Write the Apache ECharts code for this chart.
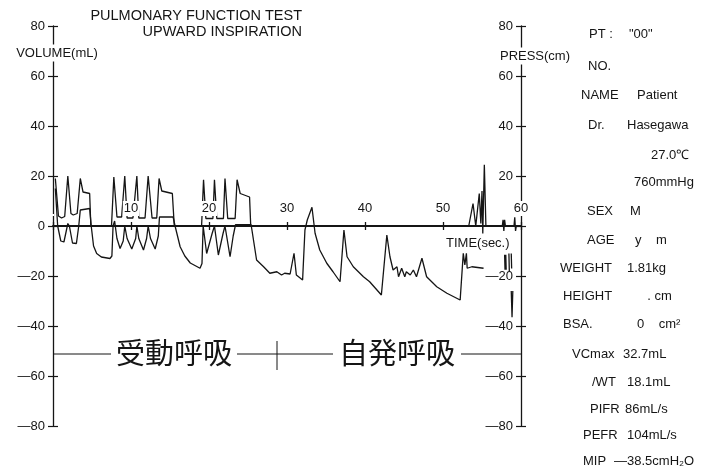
<!DOCTYPE html>
<html><head><meta charset="utf-8">
<script src="https://cdn.jsdelivr.net/npm/echarts@6/dist/echarts.min.js"></script>
<style>html,body{margin:0;padding:0;background:#fff}#c{width:709px;height:471px}</style>
</head><body><div id="c"></div>
<script>
// ---- data (time in sec, volume in mL, pressure in cm) ----
const volTime  = [0.3,0.7,1.1,1.5,1.9,2.3,2.6,3.1,3.5,3.85,4.7,4.85,7.5,7.8,8.2,8.8,9.2,9.5,10.25,10.75,11.0,11.8,12.2,12.7,13.3,13.6,13.95,15.3,15.55,19.05,19.3,19.6,20.5,20.7,21.0,21.85,22.05,22.4,23.35,23.6,24.0,25.2,25.35,53.3,53.85,54.2,54.65,54.85,55.0,55.1,55.3,55.5,57.6,57.7,57.8,57.9,58.0,59.1,59.2,59.3,59.4];
const volValue = [19,4,3.2,3.8,20,5,4.4,5,19,13.6,13,0,0,19.6,3.6,3.6,20,3.2,3.2,20,3.2,3.2,20,3.2,3.2,19,14,13,0,0,18.5,3,3,18.5,3,3,19,3,3,18.5,13,11.6,0,0,9,0,13,1,14,-3,24.5,0,0,2.5,-2,2.5,0,0,3.5,-2,0];

const pressTime  = [0.3,0.6,1.0,1.4,1.7,1.9,2.1,2.5,3.0,3.3,3.5,3.7,4.7,4.9,5.2,5.6,6.2,7.3,7.55,7.7,7.9,8.2,8.6,9.0,9.2,9.5,10.1,10.6,10.75,11.0,11.6,12.0,12.2,12.5,13.1,13.5,13.65,15.4,15.65,16.3,16.9,17.6,18.85,19.1,19.25,19.7,20.4,20.7,21.2,21.8,22.05,22.7,23.1,23.4,25.4,26.1,27.0,27.8,28.7,29.3,29.7,30.4,30.9,31.2,32.0,32.3,32.6,33.2,33.6,34.2,35.1,35.9,36.8,37.3,37.7,38.5,39.8,40.6,42.1,42.8,43.2,43.6,44.1,44.3,44.7,45.1,45.3,45.8,46.2,46.6,47.3,47.9,49.2,50.5,52.2,52.6,52.8,53.0,53.1,53.7,55.2];
const pressValue = [15,0,-6,-6.4,-2,1,0,-6.8,-7,0,6.4,7.2,7,0,-8,-11,-12.4,-13,-12,0,2,-5,-9,-6,0,-5,-9.2,-5,0,-5,-9.6,-5,0,-5,-9.2,-4,3.6,3.6,0,-8.3,-12,-14.8,-16.9,-15,0,-11,-3,0,-11.6,-3,0,-12.3,-4,0.5,0.5,-13.6,-16.3,-18.9,-18.3,-19.6,-18.9,-19.2,-10.9,-19.6,-21.6,-1.6,2.4,7.5,-2.9,-9.6,-14.9,-18.3,-22.3,-1.6,-12.3,-16.3,-20.3,-22.3,-27.6,-3.6,-12.3,-17.6,-16.3,-20.3,-16.9,-20.3,-18.3,-19.6,-17.6,-20.3,-12.9,-20.3,-24.3,-26.9,-29.6,-10.9,-15.6,-10.9,-16.9,-16.3,-16.9];

const tailTime  = [57.9,57.95,58.05,58.1,58.2,58.45,58.5,58.6,58.75,58.8,58.82,58.75,58.85,58.95];
const tailValue = [-11.5,-17.5,-11.5,-17.5,'-',-11,-18,'-',-11,-17,'-',-26,-36.5,-26];

const yTicks = {min:-80, max:80, step:20};
const xTicks = {min:0, max:60, step:10};

const infoRows = [
  ['PT :', '"00"'], ['NO.', ''], ['NAME', 'Patient'], ['Dr.', 'Hasegawa'],
  ['', '27.0℃'], ['', '760mmHg'], ['SEX', 'M'], ['AGE', 'y    m'],
  ['WEIGHT', '1.81kg'], ['HEIGHT', '  . cm'], ['BSA.', '0    cm²'],
  ['VCmax', '32.7mL'], ['/WT', '18.1mL'], ['PIFR', '86mL/s'], ['PEFR', '104mL/s'],
  ['MIP', '—38.5cmH₂O']
];

// ---- layout ----
const zip = (a, b) => a.map((t, i) => [t, b[i]]);
const FONT = '"Liberation Sans", Arial, sans-serif';
const ink = '#151515';
const neg = v => (v < 0 ? '—' + (-v) : String(v));

const infoPos = [
  [589,34,629],[588,66,null],[581,95,637],[588,125,627],[null,155,651],[null,182,634],
  [587,211,630],[587,240,635],[560,268,627],[563,296,640],[563,324,637],
  [572,354,623],[592,382,627],[590,409,625],[583,435,627],[583,461,614]
];
const graphics = [];
infoRows.forEach((r, i) => {
  const p = infoPos[i];
  if (r[0]) graphics.push({type:'text', x:p[0], y:p[1], style:{text:r[0], font:'13px '+FONT, fill:ink, verticalAlign:'middle'}});
  if (r[1]) graphics.push({type:'text', x:p[2], y:p[1], style:{text:r[1], font:'13px '+FONT, fill:ink, verticalAlign:'middle'}});
});
graphics.push(
  {type:'text', x:302, y:16, style:{text:'PULMONARY FUNCTION TEST', font:'14.5px '+FONT, fill:ink, align:'right', verticalAlign:'middle'}},
  {type:'text', x:302, y:32, style:{text:'UPWARD INSPIRATION', font:'14.5px '+FONT, fill:ink, align:'right', verticalAlign:'middle'}},
  {type:'text', x:57, y:53, z:20, style:{text:'VOLUME(mL)', font:'13px '+FONT, fill:ink, align:'center', verticalAlign:'middle', backgroundColor:'#fff', padding:[2,0]}},
  {type:'text', x:535, y:56, z:20, style:{text:'PRESS(cm)', font:'13px '+FONT, fill:ink, align:'center', verticalAlign:'middle', backgroundColor:'#fff', padding:[2,0]}},
  {type:'text', x:446, y:243, z:20, style:{text:'TIME(sec.)', font:'13px '+FONT, fill:ink, verticalAlign:'middle'}},
  {type:'line', z:5, shape:{x1:53, y1:354, x2:521, y2:354}, style:{stroke:ink, lineWidth:1}},
  {type:'line', z:5, shape:{x1:277, y1:341, x2:277, y2:370}, style:{stroke:ink, lineWidth:1}},
  {type:'text', x:174, y:353, z:20, style:{text:'受動呼吸', font:'29px "Noto Sans CJK JP", sans-serif', fill:ink, align:'center', verticalAlign:'middle', backgroundColor:'#fff', padding:[0,5]}},
  {type:'text', x:397, y:353, z:20, style:{text:'自発呼吸', font:'29px "Noto Sans CJK JP", sans-serif', fill:ink, align:'center', verticalAlign:'middle', backgroundColor:'#fff', padding:[0,6]}}
);

const yBase = {type:'value', min:yTicks.min, max:yTicks.max, interval:yTicks.step, splitLine:{show:false}};
const xBase = {type:'value', min:xTicks.min, max:xTicks.max, interval:xTicks.step, splitLine:{show:false}};
const lineStyle = {color:ink, width:1.3};
// x axis sits at volume 0: half of the 400px plot height above the bottom edge
const zeroOffset = -200;

const option = {
  animation:false,
  backgroundColor:'#fff',
  grid:{left:53, right:188, top:26, bottom:45, containLabel:false, outerBoundsMode:'none'},
  xAxis:[
    Object.assign({}, xBase, {position:'bottom', offset:zeroOffset, z:6,
      axisLine:{onZero:false, lineStyle:{color:ink, width:2}},
      axisTick:{inside:true, length:4, lineStyle:{color:ink, width:1.3}},
      axisLabel:{inside:true, margin:10, fontFamily:'Liberation Sans', fontSize:13, color:ink,
        backgroundColor:'#fff', padding:[1,1], formatter:v => v === 0 ? '' : String(v)}}),
    Object.assign({}, xBase, {position:'bottom', offset:zeroOffset,
      axisLine:{show:false, onZero:false}, axisTick:{inside:false, length:4, lineStyle:{color:ink, width:1.3}},
      axisLabel:{show:false}})
  ],
  yAxis:[
    Object.assign({}, yBase, {position:'left',
      axisLine:{show:true, onZero:false, lineStyle:{color:ink, width:1.3}},
      axisTick:{inside:false, length:5, lineStyle:{color:ink, width:1.2}},
      axisLabel:{margin:8, fontFamily:'Liberation Sans', fontSize:13, color:ink, formatter:neg}}),
    Object.assign({}, yBase, {position:'left',
      axisLine:{show:false, onZero:false}, axisTick:{inside:true, length:5, lineStyle:{color:ink, width:1.2}},
      axisLabel:{show:false}}),
    Object.assign({}, yBase, {position:'right',
      axisLine:{show:true, onZero:false, lineStyle:{color:ink, width:1.3}},
      axisTick:{inside:false, length:5, lineStyle:{color:ink, width:1.2}},
      axisLabel:{inside:true, margin:8, fontFamily:'Liberation Sans', fontSize:13, color:ink,
        formatter:v => v === 0 ? '' : neg(v)}}),
    Object.assign({}, yBase, {position:'right',
      axisLine:{show:false, onZero:false}, axisTick:{inside:true, length:5, lineStyle:{color:ink, width:1.2}},
      axisLabel:{show:false}})
  ],
  series:[
    {name:'volume', type:'line', xAxisIndex:0, yAxisIndex:0, showSymbol:false, symbol:'none',
     lineStyle:lineStyle, data:zip(volTime, volValue)},
    {name:'pressure', type:'line', xAxisIndex:0, yAxisIndex:2, showSymbol:false, symbol:'none',
     lineStyle:lineStyle, data:zip(pressTime, pressValue)},
    {name:'pressure-end', type:'line', xAxisIndex:0, yAxisIndex:2, showSymbol:false, symbol:'none',
     connectNulls:false, lineStyle:lineStyle, data:zip(tailTime, tailValue)}
  ],
  graphic:graphics
};
const chart = echarts.init(document.getElementById('c'), null, {renderer:'canvas'});
chart.setOption(option);
</script>
</body></html>
